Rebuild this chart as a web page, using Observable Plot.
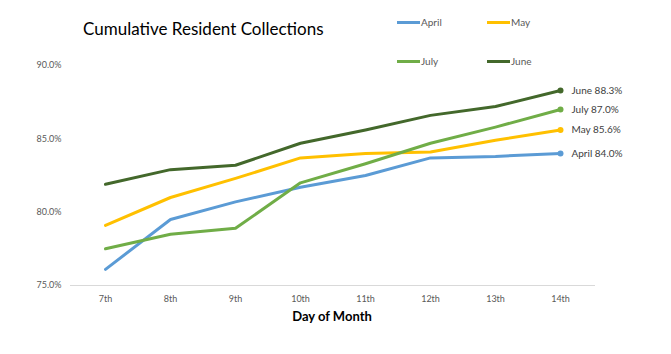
<!DOCTYPE html>
<html>
<head>
<meta charset="utf-8">
<script src="https://cdn.jsdelivr.net/npm/d3@7"></script>
<script src="https://cdn.jsdelivr.net/npm/@observablehq/plot@0.6"></script>
<style>
  html, body { margin: 0; padding: 0; background: #fff; }
  #wrap { position: relative; width: 671px; height: 354px; font-family: Lato, "Open Sans", sans-serif; }
  #title { position: absolute; left: 83px; top: 18px; font-size: 17px; color: #000; white-space: nowrap; }
  #xtitle { position: absolute; left: 0; width: 664px; top: 308px; text-align: center; font-size: 13px; font-weight: bold; color: #000; }
  .leg { position: absolute; font-size: 10px; color: #595959; display: flex; align-items: center; white-space: nowrap; }
  .leg span.sw { display: inline-block; width: 23px; height: 3px; margin-right: 1px; }
  #chart { position: absolute; left: 0; top: 0; }
</style>
</head>
<body>
<div id="wrap">
  <div id="chart"></div>
  <div id="title">Cumulative Resident Collections</div>
  <div id="xtitle">Day of Month</div>
  <div id="legend"></div>
</div>
<script>
const days = ["7th", "8th", "9th", "10th", "11th", "12th", "13th", "14th"];
const seriesNames = ["April", "May", "July", "June"];
const april = [76.1, 79.5, 80.7, 81.7, 82.5, 83.7, 83.8, 84.0];
const may   = [79.1, 81.0, 82.3, 83.7, 84.0, 84.1, 84.9, 85.6];
const july  = [77.5, 78.5, 78.9, 82.0, 83.3, 84.7, 85.8, 87.0];
const june  = [81.9, 82.9, 83.2, 84.7, 85.6, 86.6, 87.2, 88.3];
const yTicks = [75, 80, 85, 90];
const colors = {April: "#5b9bd5", May: "#ffc000", July: "#70ad47", June: "#43682b"};

const seriesValues = {April: april, May: may, July: july, June: june};
const rows = [];
for (const s of seriesNames) {
  seriesValues[s].forEach((v, i) => rows.push({series: s, day: days[i], value: v}));
}
const lastRows = seriesNames.map(s => ({series: s, day: days[days.length - 1], value: seriesValues[s][days.length - 1]}));

const chart = Plot.plot({
  width: 671,
  height: 354,
  marginLeft: 70,
  marginRight: 76,
  marginTop: 65,
  marginBottom: 69,
  style: {fontFamily: "Lato, 'Open Sans', sans-serif", fontSize: "9px", color: "#595959", background: "transparent"},
  x: {type: "point", domain: days, padding: 0.5},
  y: {domain: [75, 90]},
  color: {domain: seriesNames, range: seriesNames.map(s => colors[s])},
  marks: [
    Plot.ruleY([75], {stroke: "#d9d9d9", strokeWidth: 1}),
    Plot.axisY({ticks: yTicks, tickSize: 0, tickPadding: 9, tickFormat: d => d.toFixed(1) + "%", label: null, fill: "#595959"}),
    Plot.axisX({tickSize: 0, tickPadding: 10, label: null, fill: "#595959"}),
    Plot.line(rows, {x: "day", y: "value", z: "series", stroke: "series", strokeWidth: 3, strokeLinejoin: "round", strokeLinecap: "round"}),
    Plot.dot(lastRows, {x: "day", y: "value", fill: "series", r: 3}),
    Plot.text(lastRows, {x: "day", y: "value", text: d => `${d.series} ${d.value.toFixed(1)}%`, textAnchor: "start", dx: 11, fill: "#404040", fontSize: 10})
  ]
});
document.getElementById("chart").appendChild(chart);

// legend
const legPos = {April: [397, 16], May: [487, 16], July: [397, 55], June: [487, 55]};
const legend = document.getElementById("legend");
for (const s of seriesNames) {
  const d = document.createElement("div");
  d.className = "leg";
  d.style.left = legPos[s][0] + "px";
  d.style.top = legPos[s][1] + "px";
  d.innerHTML = `<span class="sw" style="background:${colors[s]}"></span>${s}`;
  legend.appendChild(d);
}
</script>
</body>
</html>
